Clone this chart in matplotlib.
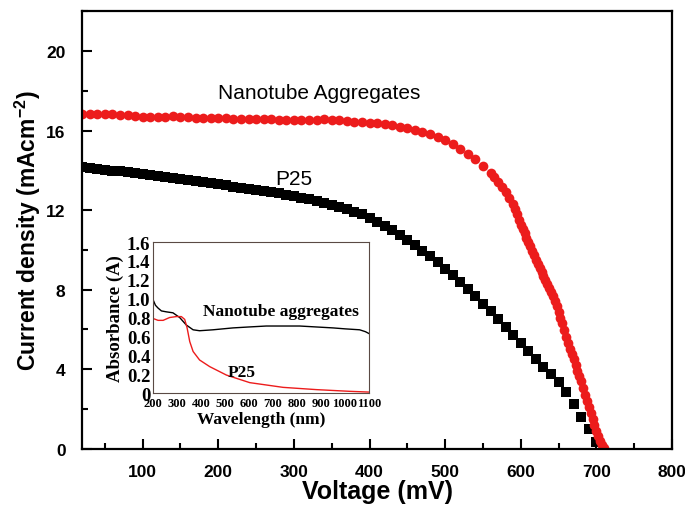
import matplotlib
matplotlib.use("Agg")
import matplotlib.pyplot as plt
from matplotlib.ticker import MultipleLocator

plt.rcParams['mathtext.fontset'] = 'custom'
plt.rcParams['mathtext.rm'] = 'Liberation Sans'
plt.rcParams['mathtext.bf'] = 'Liberation Sans:bold'

# J-V curves (voltage in mV, current density in mA cm^-2)
nanotube_v = [20, 30, 40, 50, 60, 70, 80, 90, 100, 110, 120, 130, 140, 150, 160, 170, 180, 190,
              200, 210, 220, 230, 240, 250, 260, 270, 280, 290, 300, 310, 320, 330, 340, 350,
              360, 370, 380, 390, 400, 410, 420, 430, 440, 450, 460, 470, 480, 490, 500, 510,
              520, 530, 540, 550, 560, 565, 570, 575, 580, 585, 590, 592.5, 595, 597.5, 600,
              602.5, 605, 607.5, 610, 612.5, 615, 617.5, 620, 622.5, 625, 627.5, 630, 632.5,
              635, 637.5, 640, 642.5, 645, 647.5, 650, 652.5, 655, 657.5, 660, 662.5, 665,
              667.5, 670, 672.5, 675, 677.5, 680, 682.5, 685, 687.5, 690, 692.5, 695, 697.5,
              700, 702.5, 705, 707.5, 710]
nanotube_j = [16.85, 16.85, 16.84, 16.83, 16.82, 16.80, 16.78, 16.72, 16.68, 16.66, 16.67, 16.70,
              16.72, 16.70, 16.66, 16.64, 16.63, 16.62, 16.62, 16.61, 16.60, 16.60, 16.59, 16.58,
              16.57, 16.56, 16.55, 16.54, 16.52, 16.51, 16.52, 16.55, 16.56, 16.54, 16.51, 16.48,
              16.45, 16.42, 16.40, 16.37, 16.32, 16.26, 16.20, 16.12, 16.04, 15.95, 15.82, 15.67,
              15.50, 15.30, 15.08, 14.82, 14.55, 14.22, 13.85, 13.65, 13.42, 13.18, 12.92, 12.62,
              12.30, 12.05, 11.80, 11.52, 11.25, 11.05, 10.85, 10.62, 10.40, 10.18, 9.95, 9.72,
              9.50, 9.30, 9.10, 8.90, 8.70, 8.50, 8.30, 8.10, 7.90, 7.68, 7.45, 7.18, 6.90, 6.60,
              6.30, 5.95, 5.60, 5.30, 5.00, 4.75, 4.50, 4.20, 3.90, 3.65, 3.40, 3.05, 2.70, 2.40,
              2.10, 1.80, 1.50, 1.20, 0.90, 0.65, 0.40, 0.20, 0.05]

p25_v = [20, 30, 40, 50, 60, 70, 80, 90, 100, 110, 120, 130, 140, 150, 160, 170, 180, 190, 200,
         210, 220, 230, 240, 250, 260, 270, 280, 290, 300, 310, 320, 330, 340, 350, 360, 370,
         380, 390, 400, 410, 420, 430, 440, 450, 460, 470, 480, 490, 500, 510, 520, 530, 540,
         550, 560, 570, 580, 590, 600, 610, 620, 630, 640, 650, 660, 670, 680, 690, 700]
p25_j = [14.15, 14.11, 14.07, 14.03, 13.99, 13.95, 13.90, 13.86, 13.82, 13.77, 13.72, 13.67,
         13.62, 13.57, 13.52, 13.46, 13.40, 13.35, 13.29, 13.24, 13.18, 13.13, 13.07, 13.02,
         12.96, 12.90, 12.84, 12.77, 12.70, 12.62, 12.54, 12.45, 12.36, 12.26, 12.15, 12.04,
         11.92, 11.80, 11.60, 11.42, 11.22, 11.00, 10.75, 10.50, 10.24, 9.96, 9.68, 9.38,
         9.06, 8.72, 8.38, 8.03, 7.67, 7.30, 6.92, 6.53, 6.12, 5.70, 5.30, 4.90, 4.50, 4.10,
         3.75, 3.35, 2.85, 2.26, 1.60, 1.00, 0.35]

# inset absorbance spectra
abs_nt_wl = [200, 210, 221, 235, 256, 283, 311, 339, 367, 394, 450, 533, 600, 672, 750, 811,
             880, 950, 1000, 1061, 1085, 1100]
abs_nt = [0.99, 0.93, 0.90, 0.87, 0.86, 0.85, 0.80, 0.72, 0.67, 0.66, 0.67, 0.69, 0.70, 0.71,
          0.71, 0.71, 0.70, 0.69, 0.68, 0.67, 0.65, 0.63]
abs_p25_wl = [200, 221, 242, 269, 297, 318, 332, 342, 353, 367, 394, 436, 506, 603, 742, 881,
              1019, 1100]
abs_p25 = [0.79, 0.77, 0.77, 0.80, 0.81, 0.81, 0.78, 0.69, 0.545, 0.44, 0.35, 0.28, 0.19, 0.11,
           0.06, 0.036, 0.018, 0.01]
abs_ticks = [0, 0.2, 0.4, 0.6, 0.8, 1.0, 1.2, 1.4, 1.6]
abs_ticklabels = ['0', '0.2', '0.4', '0.6', '0.8', '1.0', '1.2', '1.4', '1.6']

red = '#ec1c1c'
sans = ['Liberation Sans', 'DejaVu Sans']
serif = ['Liberation Serif', 'DejaVu Serif']

fig = plt.figure(figsize=(6.85, 5.06), dpi=100)
ax = fig.add_axes([0.12, 0.111, 0.861, 0.865])

ax.plot(p25_v, p25_j, 's', color='black', markersize=6.8, markeredgewidth=0)
ax.plot(nanotube_v, nanotube_j, 'o', color=red, markersize=7.0, markeredgewidth=0)

ax.set_xlim(20, 800)
ax.set_ylim(0, 22)
ax.xaxis.set_major_locator(MultipleLocator(100))
ax.xaxis.set_minor_locator(MultipleLocator(50))
ax.yaxis.set_major_locator(MultipleLocator(4))
ax.yaxis.set_minor_locator(MultipleLocator(2))
ax.tick_params(which='both', direction='in', top=False, right=False, width=1.5)
ax.tick_params(which='major', length=7)
ax.tick_params(which='minor', length=4)
ax.tick_params(axis='x', which='major', pad=11)
ax.tick_params(axis='y', which='major', pad=12)
for lab in ax.get_xticklabels() + ax.get_yticklabels():
    lab.set_family(sans)
    lab.set_fontweight('bold')
    lab.set_fontsize(12.5)
for s in ax.spines.values():
    s.set_linewidth(1.6)

ax.set_xlabel('Voltage (mV)', family=sans, fontweight='bold', fontsize=18, labelpad=0)
ax.set_ylabel('Current density (mAcm$^{\\mathbf{-2}}$)', family=sans, fontweight='bold',
              fontsize=16.5, labelpad=2)

ax.text(200, 17.9, 'Nanotube Aggregates', family=sans, fontsize=15, ha='left', va='center')
ax.text(275, 13.6, 'P25', family=sans, fontsize=15, ha='left', va='center')

# inset
ins = fig.add_axes([0.2234, 0.2213, 0.3153, 0.2984])
ins.plot(abs_nt_wl, abs_nt, color='black', linewidth=1.0)
ins.plot(abs_p25_wl, abs_p25, color=red, linewidth=1.0)
ins.set_xlim(200, 1100)
ins.set_ylim(0, 1.6)
ins.set_xticks(range(200, 1101, 100))
ins.set_yticks(abs_ticks)
ins.set_yticklabels(abs_ticklabels)
ins.tick_params(length=0)
ins.tick_params(axis='x', pad=3)
ins.tick_params(axis='y', pad=2)
for lab in ins.get_xticklabels():
    lab.set_family(serif)
    lab.set_fontweight('bold')
    lab.set_fontsize(9)
for lab in ins.get_yticklabels():
    lab.set_family(serif)
    lab.set_fontweight('bold')
    lab.set_fontsize(13.5)
for s in ins.spines.values():
    s.set_linewidth(0.8)
    s.set_color('#5a4a44')
ins.set_xlabel('Wavelength (nm)', family=serif, fontweight='bold', fontsize=12.5, labelpad=1)
ins.set_ylabel('Absorbance (A)', family=serif, fontweight='bold', fontsize=13.5, labelpad=2)
ins.text(408, 0.87, 'Nanotube aggregates', family=serif, fontweight='bold', fontsize=12.5,
         ha='left', va='center')
ins.text(512, 0.22, 'P25', family=serif, fontweight='bold', fontsize=12.5, ha='left', va='center')

fig.savefig('out.png', dpi=100)
